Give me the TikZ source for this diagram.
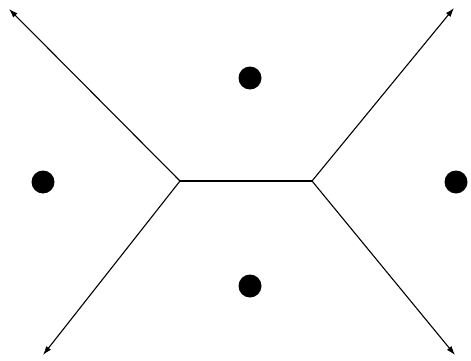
\documentclass[tikz,border=0pt]{standalone}
\usetikzlibrary{arrows.meta}

\begin{document}
\begin{tikzpicture}[x=1pt,y=-1pt,>={Latex[length=9pt,width=6pt]},
  site/.style={circle,fill=black,inner sep=0pt,minimum size=23pt},
  edge/.style={line width=1.1pt}]
  \useasboundingbox (0,0) rectangle (471,361);
  % sites
  \node[site] (top) at (250,78) {};
  \node[site] (left) at (43,182) {};
  \node[site] (right) at (456,182) {};
  \node[site] (bottom) at (250,286) {};
  % voronoi vertices and unbounded ends
  \coordinate (vl) at (180,181);
  \coordinate (vr) at (312,181);
  \coordinate (tl) at (9,9);
  \coordinate (bl) at (43,355);
  \coordinate (tr) at (454,8);
  \coordinate (br) at (455,355);
  \draw[edge] (vl) -- (vr);
  \draw[edge,->] (vl) -- (tl);
  \draw[edge,->] (vl) -- (bl);
  \draw[edge,->] (vr) -- (tr);
  \draw[edge,->] (vr) -- (br);
\end{tikzpicture}
\end{document}
